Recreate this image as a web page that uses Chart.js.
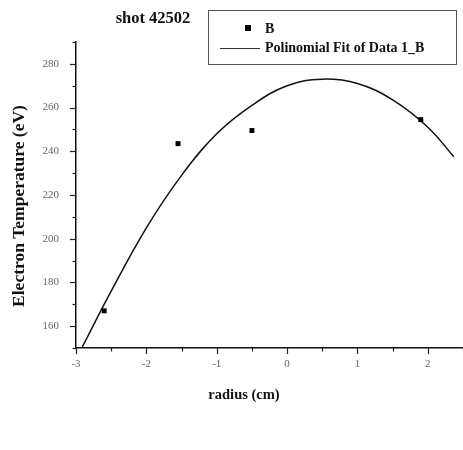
<!DOCTYPE html>
<html>
<head>
<meta charset="utf-8">
<script src="https://cdn.jsdelivr.net/npm/chart.js@4.4.1/dist/chart.umd.min.js"></script>
<style>
  html, body { margin: 0; padding: 0; background: #fff; }
  #wrap { width: 463px; height: 450px; }
</style>
</head>
<body>
<div id="wrap"><canvas id="myChart" width="463" height="450"></canvas></div>
<script>
// measured points (B)
const radius = [-2.6, -1.55, -0.5, 1.9];
const temperature = [167, 243.5, 249.5, 254.5];

// polynomial fit curve
const fitRadius = [-2.91, -2.5, -2, -1.5, -1, -0.5, 0, 0.5, 1, 1.5, 2, 2.37];
const fitTemperature = [150.5, 176, 205, 229, 248, 261, 270, 273, 271, 263.5, 251, 237.5];

const xTicks = [-3, -2, -1, 0, 1, 2];
const yTicks = [160, 180, 200, 220, 240, 260, 280];

const titleText = 'shot 42502';
const xTitle = 'radius (cm)';
const yTitle = 'Electron Temperature (eV)';

const serif = '"Liberation Serif", "DejaVu Serif", serif';

const toPoints = (xs, ys) => xs.map((x, i) => ({ x: x, y: ys[i] }));

// draws short/long tick marks, the title, axis titles and the boxed legend
const decorPlugin = {
  id: 'decor',
  afterDraw(chart) {
    const ctx = chart.ctx;
    const xs = chart.scales.x;
    const ys = chart.scales.y;
    ctx.save();
    ctx.strokeStyle = '#222';
    ctx.lineWidth = 1.2;
    ys.ticks.forEach(t => {
      const py = Math.round(ys.getPixelForValue(t.value)) + 0.5;
      const len = yTicks.includes(t.value) ? 6 : 3.5;
      ctx.beginPath();
      ctx.moveTo(ys.right, py);
      ctx.lineTo(ys.right - len, py);
      ctx.stroke();
    });
    xs.ticks.forEach(t => {
      const px = Math.round(xs.getPixelForValue(t.value)) + 0.5;
      const len = xTicks.includes(t.value) ? 6 : 3.5;
      ctx.beginPath();
      ctx.moveTo(px, xs.top);
      ctx.lineTo(px, xs.top + len);
      ctx.stroke();
    });

    ctx.fillStyle = '#111';
    ctx.textBaseline = 'middle';
    ctx.textAlign = 'center';
    ctx.font = 'bold 16.5px ' + serif;
    ctx.fillText(titleText, 153, 19);

    ctx.font = 'bold 14.5px ' + serif;
    ctx.fillText(xTitle, 244, 395);

    ctx.save();
    ctx.translate(19, 206);
    ctx.rotate(-Math.PI / 2);
    ctx.font = 'bold 17.5px ' + serif;
    ctx.fillText(yTitle, 0, 0);
    ctx.restore();

    // legend box
    ctx.strokeStyle = '#555';
    ctx.lineWidth = 1;
    ctx.strokeRect(208.5, 10.5, 248, 54);
    const ds = chart.data.datasets;
    ctx.textAlign = 'left';
    ctx.font = 'bold 14px ' + serif;
    ctx.fillStyle = '#000';
    ctx.fillRect(245, 25, 6, 6);
    ctx.fillStyle = '#111';
    ctx.fillText(ds[0].label, 265, 29);
    ctx.strokeStyle = '#333';
    ctx.beginPath();
    ctx.moveTo(220, 48.5);
    ctx.lineTo(260, 48.5);
    ctx.stroke();
    ctx.fillText(ds[1].label, 265, 48);
    ctx.restore();
  }
};

const ctx = document.getElementById('myChart').getContext('2d');
const myChart = new Chart(ctx, {
  type: 'scatter',
  data: {
    datasets: [{
      label: 'B',
      data: toPoints(radius, temperature),
      pointStyle: 'rect',
      pointRadius: 3.5,
      backgroundColor: '#000',
      borderColor: '#000',
      borderWidth: 0,
      showLine: false
    }, {
      label: 'Polinomial Fit of Data 1_B',
      data: toPoints(fitRadius, fitTemperature),
      showLine: true,
      pointRadius: 0,
      borderColor: '#111',
      borderWidth: 1.5,
      tension: 0.4,
      fill: false
    }]
  },
  options: {
    responsive: false,
    animation: false,
    layout: { autoPadding: false, padding: { top: 42, right: 0, left: 0, bottom: 0 } },
    plugins: {
      legend: { display: false },
      title: { display: false },
      tooltip: { enabled: false }
    },
    scales: {
      x: {
        type: 'linear',
        min: -3,
        max: 2.5,
        afterFit: (scale) => {
          scale.height = 102;
          scale.paddingLeft = 0;
          scale.paddingRight = 0;
        },
        border: { display: true, color: '#111', width: 1.5 },
        grid: { display: false },
        ticks: {
          stepSize: 0.5,
          autoSkip: false,
          maxRotation: 0,
          padding: 2,
          color: '#666',
          font: { family: serif, size: 11 },
          callback: (v) => xTicks.includes(v) ? String(v) : ''
        }
      },
      y: {
        type: 'linear',
        min: 150,
        max: 290,
        afterFit: (scale) => { scale.width = 76; },
        border: { display: true, color: '#111', width: 1.5 },
        grid: { display: false },
        ticks: {
          stepSize: 10,
          autoSkip: false,
          padding: 9,
          color: '#666',
          font: { family: serif, size: 11 },
          callback: (v) => yTicks.includes(v) ? String(v) : ''
        }
      }
    }
  },
  plugins: [decorPlugin]
});
</script>
</body>
</html>
